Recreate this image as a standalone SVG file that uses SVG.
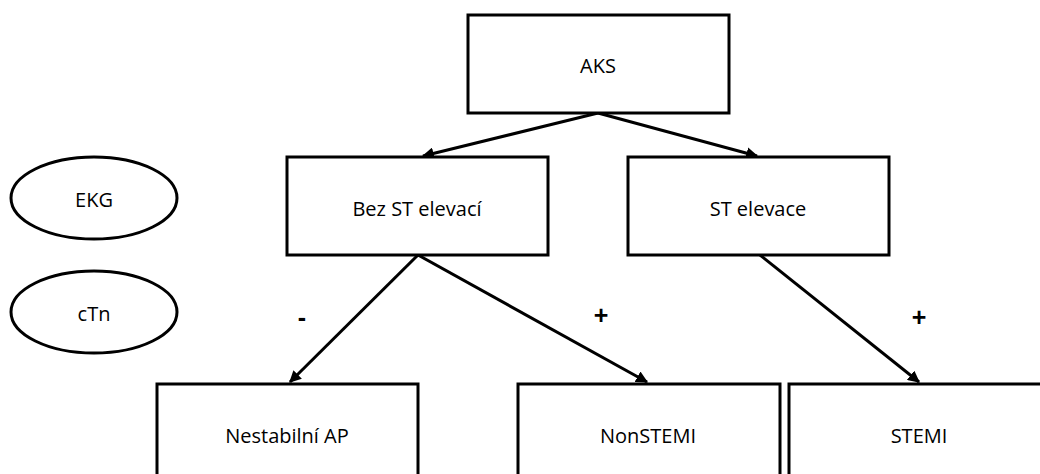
<svg xmlns="http://www.w3.org/2000/svg" width="1040" height="474" viewBox="0 0 1040 474">
<style>
.box{fill:#fff;stroke:#000;stroke-width:3}
.t{font-family:"Open Sans","Noto Sans",sans-serif;font-size:20px;fill:#000;text-anchor:middle;dominant-baseline:central}
.s{font-family:"Liberation Sans",Arial,sans-serif;font-size:25px;font-weight:bold;fill:#000;text-anchor:middle;dominant-baseline:central}
.c{stroke:#000;stroke-width:3;fill:none;marker-end:url(#a)}
</style>
<defs>
<marker id="a" viewBox="0 0 10 10" refX="9" refY="5" markerWidth="4" markerHeight="4" orient="auto" markerUnits="strokeWidth">
<path d="M0,0 L10,5 L0,10 z" fill="#000"/>
</marker>
</defs>
<rect width="1040" height="474" fill="#fff"/>
<g id="connectors">
<line class="c" x1="598" y1="113" x2="423" y2="156"/>
<line class="c" x1="598" y1="113" x2="757" y2="156"/>
<line class="c" x1="418" y1="255" x2="290" y2="382"/>
<line class="c" x1="418" y1="255" x2="647" y2="382"/>
<line class="c" x1="760" y1="255" x2="919" y2="382"/>
</g>
<g id="aks"><rect class="box" x="468" y="15" width="261" height="98"/><text class="t" x="598" y="65">AKS</text></g>
<g id="bez"><rect class="box" x="287" y="157" width="261" height="98"/><text class="t" x="417" y="208">Bez ST elevací</text></g>
<g id="ste"><rect class="box" x="628" y="157" width="261" height="98"/><text class="t" x="758" y="208">ST elevace</text></g>
<g id="ekg"><ellipse class="box" cx="94" cy="198" rx="83" ry="41"/><text class="t" x="94" y="199">EKG</text></g>
<g id="ctn"><ellipse class="box" cx="94" cy="312" rx="83" ry="41"/><text class="t" x="94" y="313">cTn</text></g>
<g id="nap"><rect class="box" x="157" y="384" width="261" height="100"/><text class="t" x="287" y="435">Nestabilní AP</text></g>
<g id="nst"><rect class="box" x="518" y="384" width="262" height="100"/><text class="t" x="648" y="435">NonSTEMI</text></g>
<g id="stemi"><rect class="box" x="789" y="384" width="262" height="100"/><text class="t" x="919" y="435">STEMI</text></g>
<g id="labels">
<text class="s" x="302" y="317">-</text>
<text class="s" x="601" y="315">+</text>
<text class="s" x="919" y="317">+</text>
</g>
</svg>
